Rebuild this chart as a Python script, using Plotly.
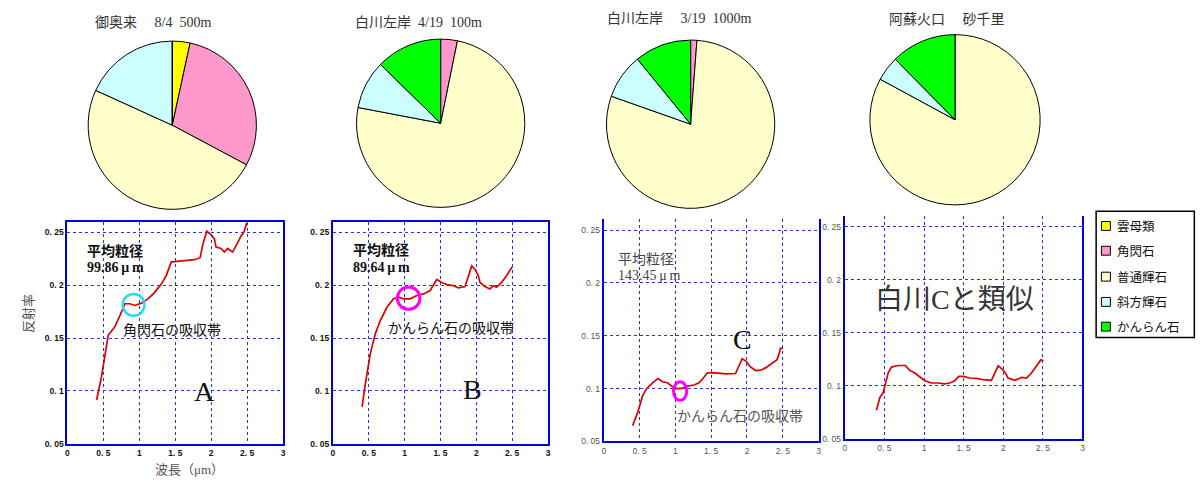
import plotly.graph_objects as go

W, H = 1204, 492

# ---------------- data ----------------
minerals = ["雲母類", "角閃石", "普通輝石", "斜方輝石", "かんらん石"]
mineral_colors = ["#FFFF00", "#FF99CC", "#FFFFCC", "#CCFFFF", "#00FF00"]

pie_titles = ["御奥来\u3000 8/4\u00a0\u00a0500m", "白川左岸\u00a0\u00a04/19\u00a0\u00a0100m",
              "白川左岸\u3000 3/19\u00a0\u00a01000m", "阿蘇火口\u3000 砂千里"]
pie1_values = [3.4, 29.4, 49.0, 18.2, 0.0]
pie2_values = [0.0, 3.2, 74.8, 9.3, 12.7]
pie3_values = [0.0, 1.2, 79.2, 8.7, 10.9]
pie4_values = [0.0, 0.0, 82.9, 4.7, 12.4]

a_wl = [0.406, 0.475, 0.568, 0.66, 0.752, 0.798, 0.868, 0.937, 1.029, 1.12, 1.21, 1.306, 1.375,
        1.444, 1.49, 1.63, 1.77, 1.846, 1.883, 1.938, 1.998, 2.044, 2.067, 2.137, 2.183, 2.229,
        2.266, 2.298, 2.367, 2.413, 2.46, 2.492]
a_ref = [0.0914, 0.1139, 0.1528, 0.1606, 0.1746, 0.1824, 0.1824, 0.1808, 0.183, 0.187, 0.193,
         0.201, 0.209, 0.222, 0.2223, 0.2235, 0.2241, 0.226, 0.2385, 0.251, 0.2478, 0.2438,
         0.236, 0.2347, 0.2313, 0.2347, 0.2332, 0.2313, 0.24, 0.2463, 0.2509, 0.2587]

b_wl = [0.407, 0.454, 0.523, 0.593, 0.662, 0.755, 0.847, 0.917, 0.986, 1.079, 1.171, 1.264, 1.356,
        1.403, 1.449, 1.519, 1.588, 1.681, 1.75, 1.843, 1.889, 1.935, 1.981, 2.028, 2.051, 2.12,
        2.19, 2.236, 2.282, 2.352, 2.421, 2.5]
b_ref = [0.0849, 0.1076, 0.1357, 0.1544, 0.1668, 0.1793, 0.1871, 0.1886, 0.1871, 0.1871, 0.1902,
         0.1917, 0.1949, 0.2005, 0.2054, 0.2026, 0.2005, 0.1995, 0.1974, 0.1986, 0.2089, 0.2182,
         0.2151, 0.2089, 0.2026, 0.1986, 0.1964, 0.1995, 0.198, 0.2026, 0.2089, 0.2173]

c_wl = [0.403, 0.473, 0.542, 0.598, 0.681, 0.756, 0.821, 0.89, 0.96, 1.029, 1.099, 1.168, 1.261,
        1.33, 1.386, 1.446, 1.562, 1.701, 1.84, 1.887, 1.933, 1.989, 2.049, 2.119, 2.188, 2.258,
        2.351, 2.42, 2.452, 2.466, 2.503]
c_ref = [0.065, 0.0775, 0.0931, 0.0999, 0.1055, 0.1096, 0.1065, 0.1055, 0.1018, 0.0999, 0.1005,
         0.1024, 0.1034, 0.1055, 0.1096, 0.1149, 0.1149, 0.114, 0.1143, 0.1212, 0.1283, 0.1258,
         0.1205, 0.1171, 0.1174, 0.1196, 0.1243, 0.1274, 0.1336, 0.138, 0.138]

d_wl = [0.4, 0.442, 0.484, 0.505, 0.547, 0.589, 0.673, 0.766, 0.82, 0.883, 0.947, 1.01, 1.094,
        1.178, 1.262, 1.325, 1.388, 1.439, 1.494, 1.578, 1.662, 1.746, 1.851, 1.893, 1.935, 1.986,
        2.028, 2.061, 2.146, 2.23, 2.293, 2.356, 2.419, 2.474, 2.507]
d_ref = [0.077, 0.0888, 0.0934, 0.0996, 0.112, 0.1176, 0.1191, 0.1191, 0.1145, 0.112, 0.1083,
         0.1048, 0.1026, 0.1026, 0.1018, 0.1026, 0.1048, 0.1088, 0.1088, 0.1073, 0.107, 0.1057,
         0.1051, 0.112, 0.1188, 0.1157, 0.112, 0.1073, 0.1051, 0.1079, 0.1073, 0.112, 0.1182,
         0.1244, 0.1235]

x_tickvals = [0, 0.5, 1, 1.5, 2, 2.5, 3]
x_ticktext = ["0", "0. 5", "1", "1. 5", "2", "2. 5", "3"]
y_tickvals = [0.05, 0.1, 0.15, 0.2, 0.25]
y_ticktext = ["0. 05", "0. 1", "0. 15", "0. 2", "0. 25"]

# ---------------- layout helpers ----------------
def px_x(p):
    return p / W

def px_y(p):
    return 1 - p / H

SERIF = "Liberation Serif, Times New Roman, Noto Sans CJK JP, serif"
GOTHIC = "Noto Sans CJK JP, sans-serif"

fig = go.Figure()

# pies: (center x px, center y px, radius px)
pie_geo = [(171, 126.5, 85), (440.5, 124.5, 85), (691.5, 125.5, 85), (957, 121, 86)]
pie_vals = [pie1_values, pie2_values, pie3_values, pie4_values]
for i, (vals, (cx, cy, r)) in enumerate(zip(pie_vals, pie_geo)):
    fig.add_trace(go.Pie(
        labels=minerals, values=vals, sort=False, direction="clockwise", rotation=0,
        marker=dict(colors=mineral_colors, line=dict(color="black", width=1)),
        textinfo="none", hoverinfo="label+percent", showlegend=False,
        domain=dict(x=[px_x(cx - r), px_x(cx + r)], y=[px_y(cy + r), px_y(cy - r)]),
    ))

# line charts
line_sets = [(a_wl, a_ref), (b_wl, b_ref), (c_wl, c_ref), (d_wl, d_ref)]
# plot area in px: (x0, x1, y_top, y_bottom)
areas = [(65.7, 282.3, 224, 448.3), (332.3, 548.3, 224, 448.3),
         (604.3, 820, 221.7, 446), (846.3, 1085, 218.3, 443.3)]
for i, ((xs, ys), (x0, x1, yt, yb)) in enumerate(zip(line_sets, areas)):
    n = "" if i == 0 else str(i + 1)
    fig.add_trace(go.Scatter(x=xs, y=ys, mode="lines", line=dict(color="#DD0000", width=1.7),
                             xaxis="x" + n, yaxis="y" + n, showlegend=False, hoverinfo="x+y"))
    bold = i < 2
    tfont = dict(size=8.5, color="#111" if bold else "#555", family="Liberation Sans, Arial",
                 weight="bold" if bold else "normal")
    gc = "#2233EE"
    xa = dict(domain=[px_x(x0), px_x(x1)], range=[0, 3], anchor="y" + n,
              tickvals=x_tickvals, ticktext=x_ticktext, tickfont=tfont,
              showgrid=True, gridcolor=gc, griddash="dot", gridwidth=1,
              showline=True, linecolor="#0000DD", linewidth=2,
              mirror=True if i < 2 else False, ticks="", zeroline=False, fixedrange=True)
    ya = dict(domain=[px_y(yb), px_y(yt)], range=[0.05, 0.26], anchor="x" + n,
              tickvals=y_tickvals, ticktext=y_ticktext, tickfont=tfont,
              showgrid=True, gridcolor=gc, griddash="dot", gridwidth=1,
              showline=True, linecolor="#0000DD", linewidth=2, mirror=True,
              ticks="", zeroline=False, fixedrange=True)
    fig.layout["xaxis" + n] = xa
    fig.layout["yaxis" + n] = ya

annotations = []
# pie titles
title_pos = [(152, 23), (418, 23), (680, 19), (949, 20)]
for t, (tx, ty) in zip(pie_titles, title_pos):
    annotations.append(dict(text=t, x=px_x(tx), y=px_y(ty), xref="paper", yref="paper",
                            showarrow=False, xanchor="center", yanchor="middle",
                            font=dict(family=SERIF, size=14, color="#333")))

def data_ann(text, x, y, ax, size, color="#111", anchor="left", bold=False, family=SERIF):
    annotations.append(dict(text=(f"<b>{text}</b>" if bold else text), x=x, y=y,
                            xref="x" + ax, yref="y" + ax, showarrow=False,
                            xanchor=anchor, yanchor="middle",
                            font=dict(family=family, size=size, color=color)))

data_ann("平均粒径", 0.24, 0.2325, "", 14, bold=True)
data_ann("99.86\u2009μ\u2009m", 0.24, 0.2167, "", 14, bold=True)
data_ann("角閃石の吸収帯", 0.74, 0.157, "", 14)
data_ann("A", 1.9, 0.0998, "", 28, anchor="center")

data_ann("平均粒径", 0.246, 0.2335, "2", 14, bold=True)
data_ann("89.64\u2009μ\u2009m", 0.246, 0.2167, "2", 14, bold=True)
data_ann("かんらん石の吸収帯", 0.746, 0.1587, "2", 14)
data_ann("B", 1.94, 0.1017, "2", 28, anchor="center")

data_ann("平均粒径", 0.177, 0.2222, "3", 14, color="#444")
data_ann("143.45\u2009μ\u2009m", 0.177, 0.2072, "3", 14, color="#444")
data_ann("C", 1.94, 0.1464, "3", 28, anchor="center")
data_ann("かんらん石の吸収帯", 0.997, 0.0734, "3", 14, color="#555")

data_ann("白川Cと類似", 1.385, 0.1814, "4", 28, color="#333", anchor="center")

# axis titles
annotations.append(dict(text="反射率", x=px_x(16.5), y=px_y(338), xref="paper", yref="paper",
                        showarrow=False, textangle=-90,
                        font=dict(family=SERIF, size=13, color="#555")))
annotations.append(dict(text="波長（μm）", x=px_x(152), y=px_y(484), xref="paper", yref="paper",
                        showarrow=False, font=dict(family=SERIF, size=13, color="#555")))

shapes = []
# highlight circles (data coordinates)
shapes.append(dict(type="circle", xref="x", yref="y", x0=0.92 - 0.152, x1=0.92 + 0.152,
                   y0=0.1814 - 0.0103, y1=0.1814 + 0.0103, line=dict(color="#22DDEE", width=2.5)))
shapes.append(dict(type="circle", xref="x2", yref="y2", x0=1.056 - 0.157, x1=1.056 + 0.157,
                   y0=0.1877 - 0.0106, y1=0.1877 + 0.0106, line=dict(color="#FF00FF", width=3)))
shapes.append(dict(type="circle", xref="x3", yref="y3", x0=1.066 - 0.093, x1=1.066 + 0.093,
                   y0=0.0977 - 0.0087, y1=0.0977 + 0.0087, line=dict(color="#FF00FF", width=3)))

# custom legend box
lx0, lx1, ly0, ly1 = 1098.7, 1197.3, 213.3, 341
shapes.append(dict(type="rect", xref="paper", yref="paper", x0=px_x(lx0), x1=px_x(lx1),
                   y0=px_y(ly1), y1=px_y(ly0), line=dict(color="black", width=1.5)))
item_y = [228.3, 253.3, 279.5, 305, 330]
for name, col, iy in zip(minerals, mineral_colors, item_y):
    shapes.append(dict(type="rect", xref="paper", yref="paper", x0=px_x(1104), x1=px_x(1113),
                       y0=px_y(iy + 4.5), y1=px_y(iy - 4.5), fillcolor=col,
                       line=dict(color="black", width=1)))
    annotations.append(dict(text=name, x=px_x(1117.5), y=px_y(iy), xref="paper", yref="paper",
                            showarrow=False, xanchor="left", yanchor="middle",
                            font=dict(family=GOTHIC, size=12.5, color="#111")))

fig.update_layout(width=W, height=H, margin=dict(l=0, r=0, t=0, b=0),
                  paper_bgcolor="white", plot_bgcolor="white",
                  annotations=annotations, shapes=shapes, showlegend=False)

fig.write_html("out.html", config={"displayModeBar": False},
               post_script="document.body.style.margin='0';document.body.style.overflow='hidden';")
